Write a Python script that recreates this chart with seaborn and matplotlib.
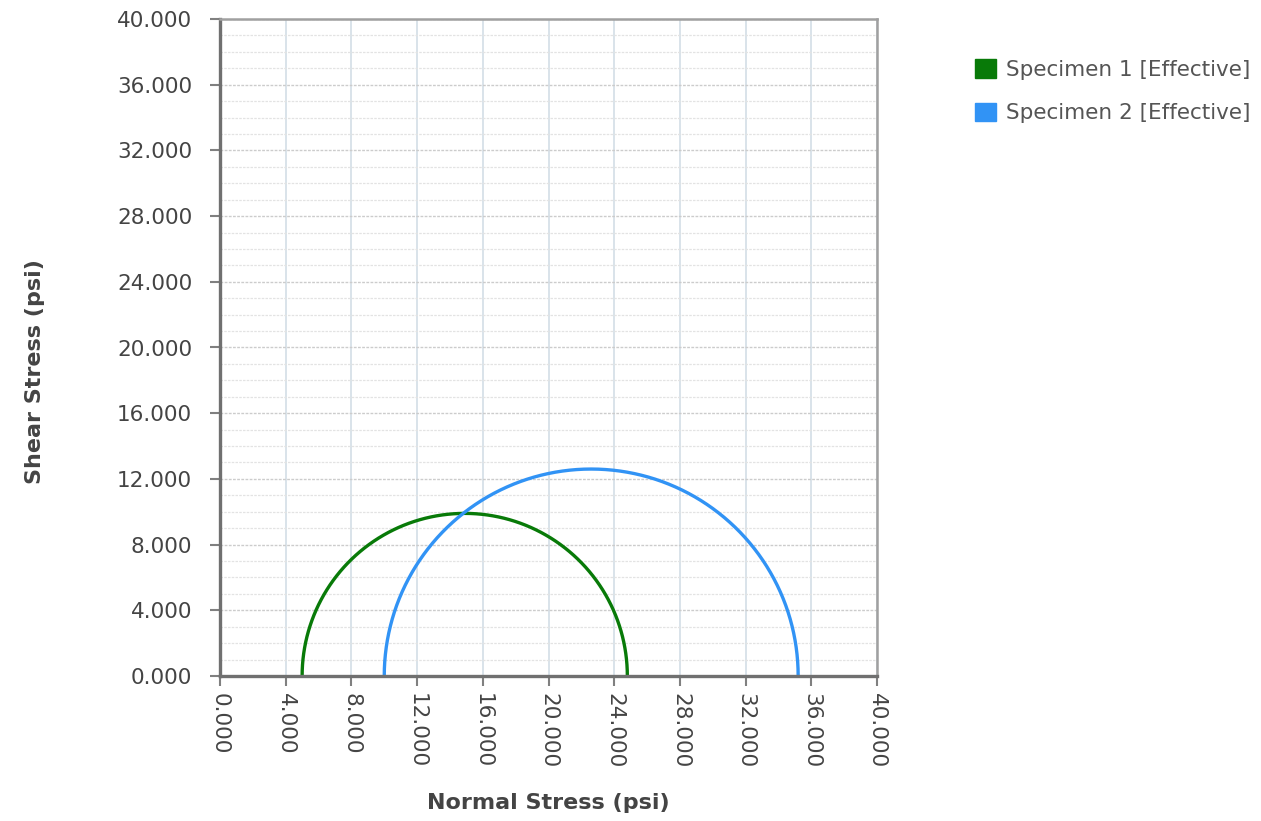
import numpy as np
import pandas as pd
import matplotlib
matplotlib.use("Agg")
import matplotlib.pyplot as plt
from matplotlib.patches import Patch
from matplotlib.ticker import MultipleLocator, FormatStrFormatter
import seaborn as sns

# Data: principal effective stresses (psi) for each specimen
specimens = ["Specimen 1 [Effective]", "Specimen 2 [Effective]"]
sigma3 = [5.0, 10.0]
sigma1 = [24.8, 35.2]
colors = ["#087a08", "#3193f5"]

# Build Mohr circle points from the principal stresses
rows = []
theta = np.linspace(np.pi, 0, 181)
for name, s3, s1 in zip(specimens, sigma3, sigma1):
    c = (s1 + s3) / 2
    r = (s1 - s3) / 2
    for t in theta:
        rows.append({"specimen": name, "sigma": c + r * np.cos(t), "tau": r * np.sin(t)})
df = pd.DataFrame(rows)

sns.set_theme(style="white")
plt.rcParams['font.family'] = ['DejaVu Sans']

fig = plt.figure(figsize=(12.61, 8.21), dpi=100)
ax = fig.add_axes([220/1261, 1-676/821, (877-220)/1261, (676-19)/821])

sns.lineplot(data=df, x="sigma", y="tau", hue="specimen", palette=colors,
             sort=False, estimator=None, linewidth=2.4, ax=ax, legend=False)

ax.set_xlim(0, 40)
ax.set_ylim(0, 40)
ax.xaxis.set_major_locator(MultipleLocator(4))
ax.yaxis.set_major_locator(MultipleLocator(4))
ax.yaxis.set_minor_locator(MultipleLocator(1))
ax.xaxis.set_major_formatter(FormatStrFormatter("%.3f"))
ax.yaxis.set_major_formatter(FormatStrFormatter("%.3f"))

ax.grid(False)
ax.xaxis.grid(True, which="major", color="#d3dee6", linewidth=1.2, linestyle="-")
ax.yaxis.grid(True, which="major", color="#cccccc", linewidth=1.0, linestyle=(0, (2, 1)))
ax.yaxis.grid(True, which="minor", color="#e3e3e3", linewidth=0.9, linestyle=(0, (2, 1)))
ax.set_axisbelow(True)

for side in ["left", "bottom"]:
    ax.spines[side].set_color("#707070")
    ax.spines[side].set_linewidth(2.4)
for side in ["top", "right"]:
    ax.spines[side].set_color("#a0a0a0")
    ax.spines[side].set_linewidth(1.8)

ax.tick_params(axis="both", which="major", direction="out", length=7, width=1.5,
               color="#808080", labelcolor="#444444", labelsize=15.5)
ax.tick_params(axis="y", which="major", pad=13)
ax.tick_params(axis="x", which="major", pad=5, labelrotation=-90)
ax.tick_params(axis="y", which="minor", length=0)
ax.tick_params(left=True, bottom=True)

ax.set_xlabel("Normal Stress (psi)", fontsize=16, fontweight="bold", color="#444444", labelpad=18)
ax.set_ylabel("Shear Stress (psi)", fontsize=16, fontweight="bold", color="#444444", labelpad=52)
ax.yaxis.label.set_y(1 - (372 - 19) / 657)

handles = [Patch(facecolor=c, edgecolor=c) for c in colors]
fig.legend(handles, specimens, loc="upper left", bbox_to_anchor=(956/1261, 1-40/821),
           frameon=False, fontsize=15.5, labelcolor="#555555", handlelength=0.95,
           handleheight=0.95, handletextpad=0.45, labelspacing=1.05)

fig.savefig("out.png", dpi=100, facecolor="white")
